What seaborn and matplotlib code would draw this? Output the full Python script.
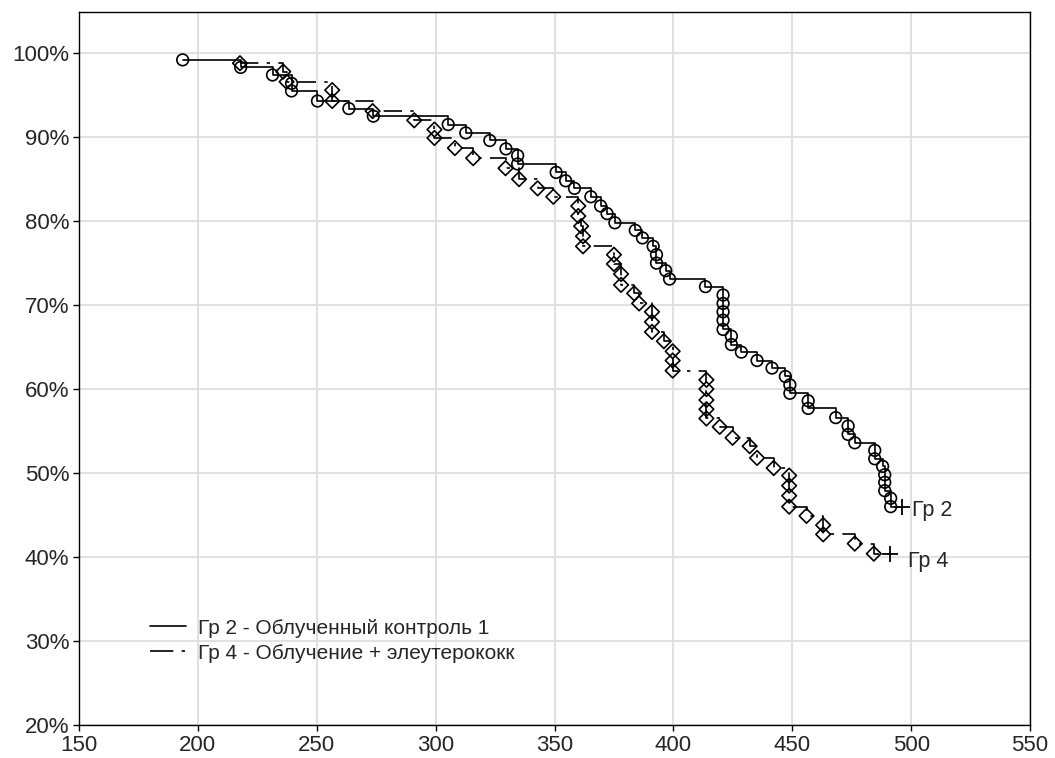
import matplotlib
matplotlib.use("Agg")
import matplotlib.pyplot as plt
import seaborn as sns
import pandas as pd
from matplotlib.lines import Line2D

# ---- data (time, survival %) ----
g2_time = [193.6, 218, 231.4, 239.4, 239.4, 250.3, 263.5, 273.8, 305.3, 312.7,
           322.8, 329.6, 334.5, 334.5, 350.7, 354.7, 358.4, 365.3, 369.4, 372.1,
           375.4, 384, 387, 391.5, 392.9, 392.9, 396.8, 398.4, 413.5, 420.9,
           420.9, 420.9, 420.9, 420.9, 424.4, 424.4, 428.6, 435.2, 441.5, 447.1,
           449.0, 449.0, 456.7, 456.7, 468.3, 473.5, 473.5, 476.3, 484.7, 484.7,
           488.0, 488.9, 488.9, 488.9, 491.4, 491.4]
g2_surv = [99.2, 98.3, 97.4, 96.4, 95.5, 94.3, 93.4, 92.5, 91.5, 90.5,
           89.6, 88.6, 87.8, 86.8, 85.8, 84.8, 83.9, 82.9, 81.8, 80.9,
           79.8, 78.9, 78.0, 77.0, 76.0, 75.0, 74.1, 73.1, 72.2, 71.2,
           70.2, 69.2, 68.2, 67.1, 66.3, 65.3, 64.4, 63.4, 62.5, 61.5,
           60.5, 59.5, 58.6, 57.7, 56.6, 55.6, 54.6, 53.6, 52.7, 51.7,
           50.8, 49.8, 48.9, 47.9, 47.0, 46.0]
g2_end = (496.0, 46.0)

g4_time = [217.7, 235.9, 237.3, 256.5, 256.5, 273.5, 291, 299.5, 299.5, 308.1,
           315.8, 329.4, 335.1, 342.9, 349.5, 360, 360, 361.2, 362, 362,
           375, 375, 378, 378, 383.5, 385.6, 391, 391, 391, 396,
           399.7, 399.7, 399.7, 413.9, 413.9, 413.9, 413.9, 413.9, 419.5, 424.9,
           432.1, 435.2, 442.2, 448.7, 448.7, 448.7, 448.7, 456, 463, 463,
           476.3, 484.3]
g4_surv = [98.8, 97.8, 96.6, 95.6, 94.3, 93.1, 92.0, 90.9, 89.9, 88.7,
           87.5, 86.3, 85.0, 83.9, 82.9, 81.8, 80.6, 79.4, 78.2, 77.0,
           76.0, 74.9, 73.7, 72.4, 71.4, 70.2, 69.2, 68.0, 66.8, 65.7,
           64.5, 63.4, 62.2, 61.1, 60.0, 58.7, 57.6, 56.5, 55.5, 54.2,
           53.2, 51.8, 50.6, 49.7, 48.5, 47.3, 46.0, 44.9, 43.8, 42.7,
           41.6, 40.4]
g4_end = (491.0, 40.4)

labels = ["Гр 2 - Облученный контроль 1", "Гр 4 - Облучение + элеутерококк"]
end_labels = ["Гр 2", "Гр 4"]
x_ticks = [150, 200, 250, 300, 350, 400, 450, 500, 550]
y_ticks = [20, 30, 40, 50, 60, 70, 80, 90, 100]

sns.set_theme(style="white")
plt.rcParams['font.family'] = ['Liberation Sans', 'DejaVu Sans']

fig = plt.figure(figsize=(10.55, 7.58), dpi=100)
ax = fig.add_axes([79/1055, 1-725/758, (1030-79)/1055, (725-12)/758])

dash4 = (11, 5, 2, 5)
groups = [
    (g2_time, g2_surv, g2_end, "o", None),
    (g4_time, g4_surv, g4_end, "D", dash4),
]
for t, s, end, mk, dash in groups:
    df = pd.DataFrame({"t": list(t) + [end[0]], "s": list(s) + [end[1]]})
    kw = dict(dashes=dash) if dash else {}
    sns.lineplot(data=df, x="t", y="s", estimator=None, sort=False,
                 drawstyle="steps-post", color="black", linewidth=1.2, ax=ax,
                 **kw)
    ev = pd.DataFrame({"t": t, "s": s})
    sns.scatterplot(data=ev, x="t", y="s", marker=mk, s=70 if mk == "o" else 55,
                    facecolors="none", edgecolor="black", linewidth=1.2, ax=ax,
                    zorder=3)
    ax.plot([end[0]], [end[1]], marker="+", color="black", markersize=12,
            markeredgewidth=1.3, linestyle="none", zorder=4)

ax.text(500.3, 45.6, end_labels[0], fontsize=15.5, va="center", ha="left")
ax.text(498.5, 39.5, end_labels[1], fontsize=15.5, va="center", ha="left")

ax.set_xlim(150, 550)
ax.set_ylim(20, 104.9)
ax.set_xticks(x_ticks)
ax.set_yticks(y_ticks)
ax.set_xticklabels([str(v) for v in x_ticks], fontsize=16)
ax.set_yticklabels([f"{v}%" for v in y_ticks], fontsize=16)
ax.set_xlabel("")
ax.set_ylabel("")
ax.grid(True, color="#dcdcdc", linewidth=1.2)
ax.set_axisbelow(True)
for sp in ax.spines.values():
    sp.set_color("black")
    sp.set_linewidth(1.0)
ax.tick_params(axis="both", which="both", direction="out", length=4,
               color="black", width=1, bottom=True, left=True, pad=3)

handles = [Line2D([], [], color="black", linewidth=1.2),
           Line2D([], [], color="black", linewidth=1.2, dashes=(14, 5, 2, 5))]
ax.legend(handles, labels, loc="upper left", bbox_to_anchor=(0.066, 0.161),
          frameon=False, fontsize=15, handlelength=1.7, handletextpad=0.6,
          labelspacing=0.3, borderaxespad=0)

fig.savefig("out.png", dpi=100)
